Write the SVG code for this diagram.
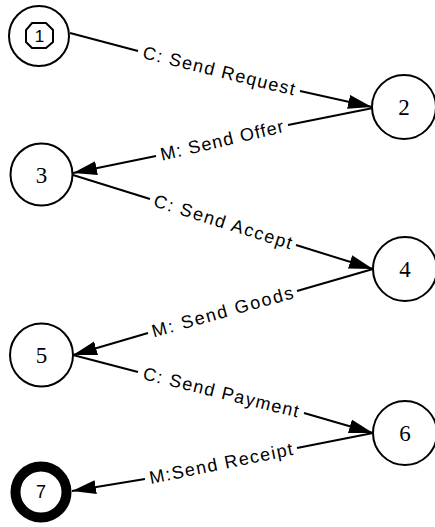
<svg xmlns="http://www.w3.org/2000/svg" width="435" height="527" viewBox="0 0 435 527">
<style>
.node{fill:#fff;stroke:#000;stroke-width:2}
.num{font-family:"Liberation Serif",serif;font-size:23px;text-anchor:middle;fill:#000}
.snum{font-family:"Liberation Sans",sans-serif;text-anchor:middle;fill:#000}
.edge{stroke:#000;stroke-width:2;fill:none}
.lbl{font-family:"Liberation Sans",sans-serif;font-size:18px;text-anchor:middle;fill:#000}
</style>
<defs>
<marker id="arr" markerUnits="userSpaceOnUse" markerWidth="26" markerHeight="16" refX="24" refY="7" orient="auto">
<polygon points="0,0 24,7 0,14" fill="#000"/>
</marker>
</defs>
<rect width="435" height="527" fill="#fff"/>
<g id="connectors">
<line class="edge" x1="70" y1="33" x2="138" y2="51"/>
<line class="edge" x1="300" y1="91" x2="372" y2="107" marker-end="url(#arr)"/>
<text class="lbl" transform="translate(219,71) rotate(13.9)" y="6" textLength="156" lengthAdjust="spacing">C: Send Request</text>
<line class="edge" x1="373" y1="108" x2="288" y2="125"/>
<line class="edge" x1="156" y1="156" x2="73" y2="173" marker-end="url(#arr)"/>
<text class="lbl" transform="translate(222,140.5) rotate(-13.2)" y="6" textLength="126" lengthAdjust="spacing">M: Send Offer</text>
<line class="edge" x1="73" y1="175" x2="150" y2="199"/>
<line class="edge" x1="296" y1="245" x2="373" y2="269" marker-end="url(#arr)"/>
<text class="lbl" transform="translate(223,222) rotate(17.5)" y="6" textLength="144" lengthAdjust="spacing">C: Send Accept</text>
<line class="edge" x1="373" y1="269" x2="297" y2="291"/>
<line class="edge" x1="148" y1="333" x2="73" y2="355" marker-end="url(#arr)"/>
<text class="lbl" transform="translate(222.5,312) rotate(-15.7)" y="6" textLength="146" lengthAdjust="spacing">M: Send Goods</text>
<line class="edge" x1="73" y1="355" x2="138" y2="372"/>
<line class="edge" x1="304" y1="413" x2="373" y2="433" marker-end="url(#arr)"/>
<text class="lbl" transform="translate(221,392.5) rotate(13.9)" y="6" textLength="160" lengthAdjust="spacing">C: Send Payment</text>
<line class="edge" x1="373" y1="433" x2="297" y2="448"/>
<line class="edge" x1="145" y1="479" x2="72" y2="491" marker-end="url(#arr)"/>
<text class="lbl" transform="translate(221,463.5) rotate(-11.5)" y="6" textLength="146" lengthAdjust="spacing">M:Send Receipt</text>
</g>
<g id="node1">
<circle class="node" cx="39" cy="36" r="30"/>
<polygon class="node" points="32,23 46,23 53,30 53,42 46,48 32,48 26,42 26,30"/>
<text class="snum" x="39.5" y="42" font-size="17">1</text>
</g>
<g id="node2">
<circle class="node" cx="404" cy="107" r="32"/>
<text class="num" x="404" y="115">2</text>
</g>
<g id="node3">
<circle class="node" cx="41.5" cy="174.5" r="31"/>
<text class="num" x="41.5" y="182.5">3</text>
</g>
<g id="node4">
<circle class="node" cx="405" cy="269" r="32"/>
<text class="num" x="405" y="277">4</text>
</g>
<g id="node5">
<circle class="node" cx="41.5" cy="355" r="31.5"/>
<text class="num" x="41.5" y="363">5</text>
</g>
<g id="node6">
<circle class="node" cx="405" cy="433" r="32"/>
<text class="num" x="405" y="441">6</text>
</g>
<g id="node7">
<circle cx="41" cy="492" r="25.5" fill="#fff" stroke="#000" stroke-width="10"/>
<text class="snum" x="41" y="498" font-size="18">7</text>
</g>
</svg>
